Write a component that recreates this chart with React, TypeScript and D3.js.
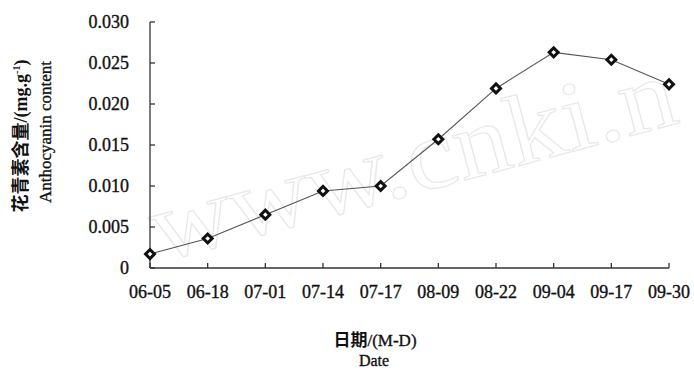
import React from "react";
import * as d3 from "d3";

const dates = ["06-05", "06-18", "07-01", "07-14", "07-17", "08-09", "08-22", "09-04", "09-17", "09-30"];
const anthocyanin = [0.0017, 0.0036, 0.0065, 0.0094, 0.01, 0.0157, 0.0219, 0.0263, 0.0254, 0.0224];
const yTicks = [0, 0.005, 0.01, 0.015, 0.02, 0.025, 0.03];

const W = 694;
const H = 372;
const serif = "'Liberation Serif', 'Times New Roman', serif";
const cjk = "'Noto Sans CJK SC', sans-serif";

export default function App() {
  const x = d3.scalePoint<string>().domain(dates).range([150, 669]).padding(0);
  const y = d3.scaleLinear().domain([0, 0.03]).range([268, 22]);
  const line = d3
    .line<number>()
    .x((_, i) => x(dates[i]) as number)
    .y((d) => y(d));
  const marker = d3.symbol().type(d3.symbolSquare).size(40)() as string;
  const fmt = (d: number) => (d === 0 ? "0" : d3.format(".3f")(d));
  const textStyle = { stroke: "#111", strokeWidth: 0.35 };

  return (
    <svg width={W} height={H} style={{ position: "absolute", left: 0, top: 0, background: "#fff" }}>
      <rect x={0} y={0} width={W} height={H} fill="#fff" />
      {/* watermark */}
      <text
        x={160}
        y={262}
        transform="rotate(-15 160 262)"
        fontFamily={serif}
        fontSize={100}
        fill="none"
        stroke="#e8e8e8"
        strokeWidth={1.2}
        textLength={540}
        lengthAdjust="spacingAndGlyphs"
      >
        www.cnki.n
      </text>

      {/* axes */}
      <line x1={150} x2={150} y1={y(0.03)} y2={y(0)} stroke="#333" strokeWidth={1.3} />
      <line x1={150} x2={669} y1={y(0)} y2={y(0)} stroke="#333" strokeWidth={1.3} />
      {yTicks.map((t) => (
        <g key={t}>
          <line x1={150} x2={155} y1={y(t)} y2={y(t)} stroke="#333" strokeWidth={1.3} />
          <text
            x={129}
            y={y(t)}
            dy="0.35em"
            textAnchor="end"
            fontFamily={serif}
            fontSize={18}
            fill="#111"
            style={textStyle}
          >
            {fmt(t)}
          </text>
        </g>
      ))}
      {dates.map((d) => (
        <g key={d}>
          <line x1={x(d)} x2={x(d)} y1={y(0)} y2={y(0) - 5} stroke="#333" strokeWidth={1.3} />
          <text
            x={x(d)}
            y={298}
            textAnchor="middle"
            fontFamily={serif}
            fontSize={18}
            fill="#111"
            style={textStyle}
          >
            {d}
          </text>
        </g>
      ))}

      {/* line */}
      <path d={line(anthocyanin) as string} fill="none" stroke="#555" strokeWidth={1.1} />
      {anthocyanin.map((v, i) => (
        <path
          key={i}
          d={marker}
          transform={`translate(${x(dates[i])},${y(v)}) rotate(45)`}
          fill="#fff"
          stroke="#111"
          strokeWidth={3}
        />
      ))}

      {/* x title */}
      <text x={375} y={346} textAnchor="middle" fontSize={17} fill="#111">
        <tspan fontFamily={cjk} fontWeight="bold">日期</tspan>
        <tspan fontFamily={serif} style={textStyle}>/(M-D)</tspan>
      </text>
      <text x={374} y={366} textAnchor="middle" fontFamily={serif} fontSize={16} fill="#111" style={textStyle}>
        Date
      </text>

      {/* y title */}
      <text transform="translate(27,136) rotate(-90)" textAnchor="middle" fontSize={18} fill="#111">
        <tspan fontFamily={cjk} fontWeight="bold">花青素含量</tspan>
        <tspan fontFamily={serif} fontWeight="bold">/(mg.g</tspan>
        <tspan fontFamily={serif} fontWeight="bold" fontSize={10} dy={-7}>-1</tspan>
        <tspan fontFamily={serif} fontWeight="bold" dy={7}>)</tspan>
      </text>
      <text
        transform="translate(51,132) rotate(-90)"
        textAnchor="middle"
        fontFamily={serif}
        fontSize={17}
        fill="#111"
        style={textStyle}
      >
        Anthocyanin content
      </text>
    </svg>
  );
}
